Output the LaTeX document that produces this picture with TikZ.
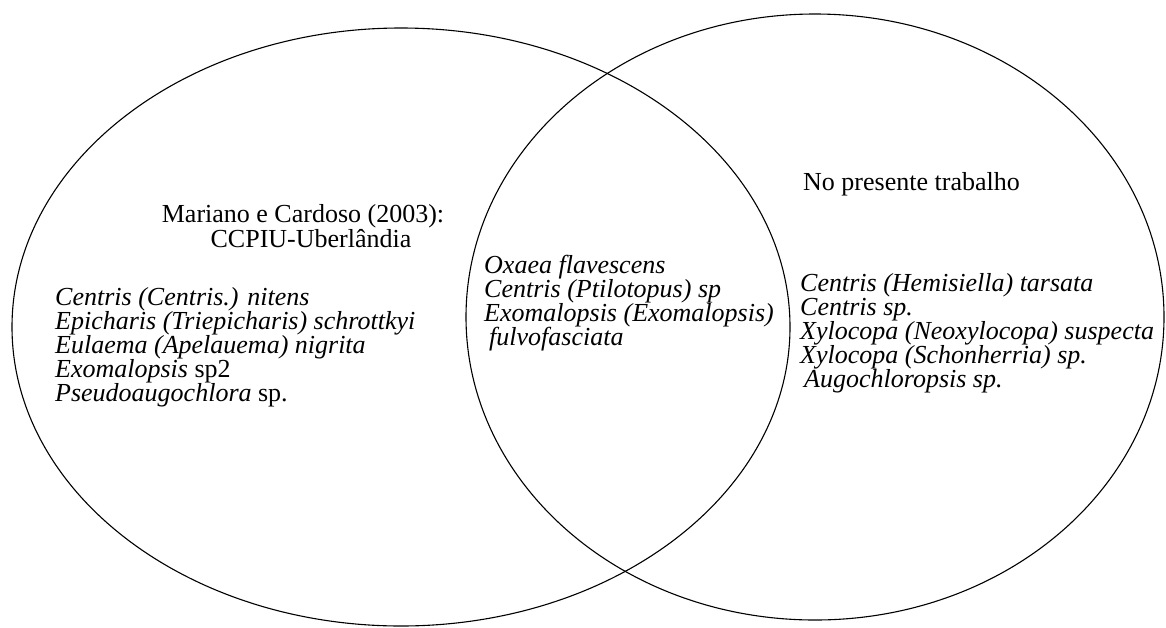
\documentclass[tikz,border=0pt]{standalone}
\usepackage{fontspec}
\setmainfont{Liberation Serif}
\begin{document}
\begin{tikzpicture}[x=1pt,y=-1pt,
  venn/.style={draw=black, line width=1.1pt},
  head/.style={font=\fontsize{26}{26}\selectfont, inner sep=0pt},
  spline/.style={font=\fontsize{26}{26}\selectfont\itshape, anchor=base west, inner sep=0pt}]
\useasboundingbox (0,0) rectangle (1166,627);
% circles
\draw[venn] (401,327) ellipse [x radius=389pt, y radius=299pt];
\draw[venn] (815,317) ellipse [x radius=349pt, y radius=303pt];
% left set
\node[head, anchor=base] (t1) at (303,222) {Mariano e Cardoso (2003):};
\node[head, anchor=base] (t2) at (311,247) {CCPIU-Uberlândia};
\node[spline] (l1) at (55,305) {Centris (Centris.) nitens};
\node[spline] (l2) at (55,329) {Epicharis (Triepicharis) schrottkyi};
\node[spline] (l3) at (55,353) {Eulaema (Apelauema) nigrita};
\node[spline] (l4) at (55,377) {Exomalopsis {\upshape sp2}};
\node[spline] (l5) at (55,401) {Pseudoaugochlora {\upshape sp.}};
% intersection
\node[spline] (m1) at (484,273) {Oxaea flavescens};
\node[spline] (m2) at (484,297) {Centris (Ptilotopus) sp};
\node[spline] (m3) at (484,321) {Exomalopsis (Exomalopsis)};
\node[spline] (m4) at (489,345) {fulvofasciata};
% right set
\node[head, anchor=base west] (t3) at (803,190) {No presente trabalho};
\node[spline] (r1) at (800,291) {Centris (Hemisiella) tarsata};
\node[spline] (r2) at (800,315) {Centris sp.};
\node[spline] (r3) at (800,339) {Xylocopa (Neoxylocopa) suspecta};
\node[spline] (r4) at (800,363) {Xylocopa (Schonherria) sp.};
\node[spline] (r5) at (804,387) {Augochloropsis sp.};
\end{tikzpicture}
\end{document}
